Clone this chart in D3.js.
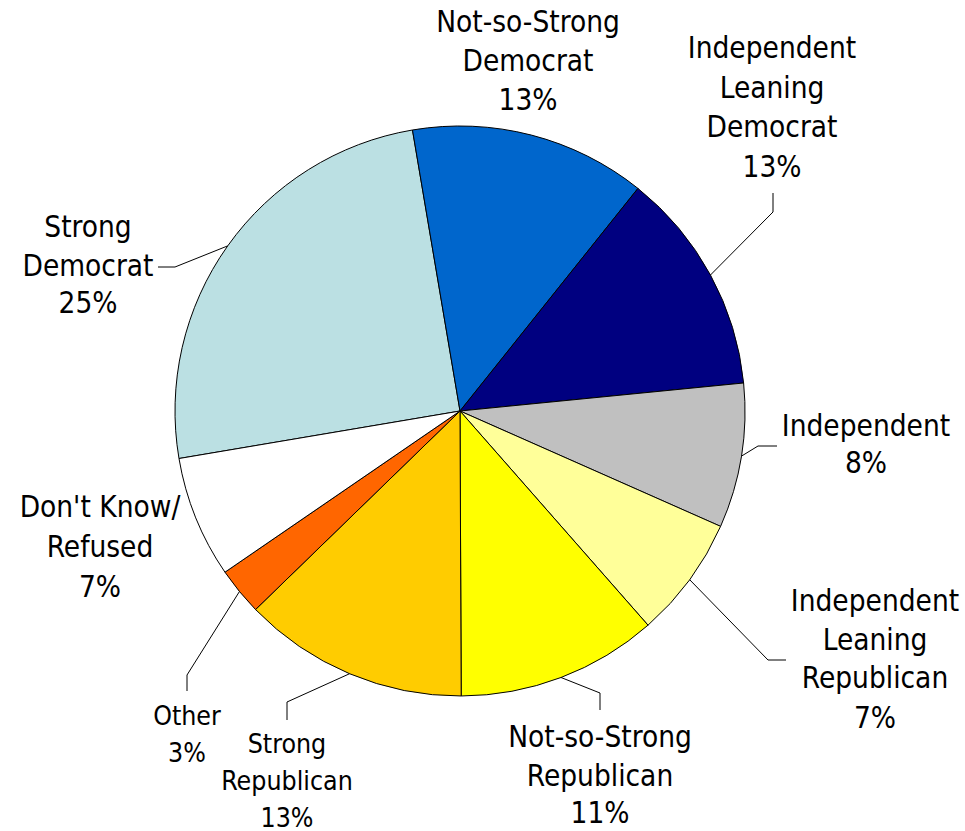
<!DOCTYPE html>
<html>
<head>
<meta charset="utf-8">
<script src="https://cdn.jsdelivr.net/npm/d3@7"></script>
<style>
  html, body { margin: 0; padding: 0; background: #fff; }
  svg text { font-family: "DejaVu Sans Condensed", "DejaVu Sans", sans-serif; font-stretch: condensed; fill: #000; }
</style>
</head>
<body>
<svg id="chart" width="965" height="831"></svg>
<script>
// ---- data ----
const categories = [
  "Strong\nDemocrat",
  "Not-so-Strong\nDemocrat",
  "Independent\nLeaning\nDemocrat",
  "Independent",
  "Independent\nLeaning\nRepublican",
  "Not-so-Strong\nRepublican",
  "Strong\nRepublican",
  "Other",
  "Don't Know/\nRefused"
];
const values = [25.0, 13.4, 12.7, 8.2, 6.9, 11.4, 12.8, 2.7, 6.9];
const colors = ["#BBE0E3", "#0066CC", "#000080", "#C0C0C0", "#FFFF99", "#FFFF00", "#FFCC00", "#FF6600", "#FFFFFF"];

// ---- layout (label placement) ----
const labelLayout = [
  { cx: 88,  base: [237, 276, 313],           size: 29.5, leader: [[175, 267], [158, 267]] },
  { cx: 528, base: [32, 71, 110],             size: 29.5, leader: null },
  { cx: 772, base: [58, 97.5, 137, 176.5],    size: 29.5, leader: [[773, 212], [773, 193]] },
  { cx: 866, base: [436, 473],                size: 29.5, leader: [[758, 446], [777, 446]] },
  { cx: 875, base: [611, 650, 688, 728],      size: 29.5, leader: [[768, 660], [786, 660]] },
  { cx: 600, base: [747, 786, 823],           size: 29.5, leader: [[600, 693], [600, 710]] },
  { cx: 287, base: [753, 790, 827],           size: 26.5, leader: [[287, 702], [287, 720]] },
  { cx: 187, base: [725, 762],                size: 26.5, leader: [[187, 675], [187, 691]] },
  { cx: 100, base: [517, 557, 597],           size: 29.5, leader: null }
];

const cx = 460, cy = 411, R = 285;
const startDeg = -99.6;

const svg = d3.select("#chart");
const g = svg.append("g").attr("transform", `translate(${cx},${cy})`);

const data = categories.map((c, i) => ({ name: c, value: values[i], color: colors[i], layout: labelLayout[i] }));

const pie = d3.pie()
  .value(d => d.value)
  .sort(null)
  .startAngle(startDeg * Math.PI / 180)
  .endAngle(startDeg * Math.PI / 180 + 2 * Math.PI);

const arcs = pie(data);
const arc = d3.arc().innerRadius(0).outerRadius(R);
const edgeArc = d3.arc().innerRadius(R).outerRadius(R);

g.selectAll("path.slice")
  .data(arcs)
  .join("path")
  .attr("class", "slice")
  .attr("d", arc)
  .attr("fill", d => d.data.color)
  .attr("stroke", "#000")
  .attr("stroke-width", 1)
  .attr("stroke-linejoin", "round");

// leader lines
const line = d3.line();
svg.selectAll("path.leader")
  .data(arcs.filter(d => d.data.layout.leader))
  .join("path")
  .attr("class", "leader")
  .attr("d", d => {
    const [ex, ey] = edgeArc.centroid(d);
    const pts = [[cx + ex, cy + ey]].concat(d.data.layout.leader);
    return line(pts);
  })
  .attr("fill", "none")
  .attr("stroke", "#000")
  .attr("stroke-width", 1);

// labels
const fmt = v => Math.round(v) + "%";
const labels = svg.selectAll("text.label")
  .data(arcs)
  .join("text")
  .attr("class", "label")
  .attr("text-anchor", "middle")
  .style("font-size", d => d.data.layout.size + "px");

labels.each(function(d) {
  const lines = d.data.name.split("\n").concat([fmt(d.data.value)]);
  const t = d3.select(this);
  lines.forEach((txt, i) => {
    t.append("tspan")
      .attr("x", d.data.layout.cx)
      .attr("y", d.data.layout.base[i])
      .text(txt);
  });
});
</script>
</body>
</html>
